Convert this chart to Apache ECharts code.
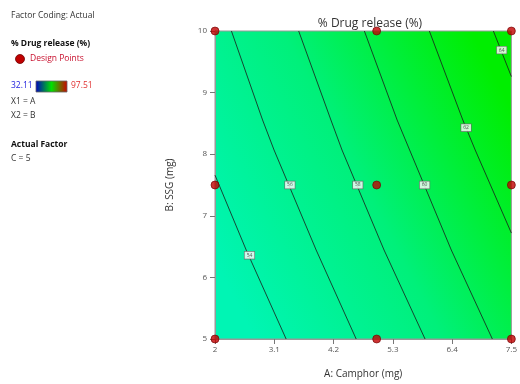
<!DOCTYPE html>
<html><head><meta charset="utf-8">
<script src="https://cdn.jsdelivr.net/npm/echarts@6/dist/echarts.min.js"></script>
<style>html,body{margin:0;padding:0;background:#fff}#c{width:520px;height:384px}</style>
</head><body><div id="c"></div>
<script>
var xTicks = [2, 3.1, 4.2, 5.3, 6.4, 7.5];
var yTicks = [5, 6, 7, 8, 9, 10];
var designPoints = [[2,10],[5,10],[7.5,10],[2,7.5],[5,7.5],[7.5,7.5],[2,5],[5,5],[7.5,5]];
var contour54 = [[2,7.66],[2.579,6.445],[3.32,5]];
var contour56 = [[2.305,10],[2.883,8.555],[3.096,8.068],[3.877,6.445],[4.62,5]];
var contour58 = [[3.553,10],[4.151,8.555],[4.357,8.068],[5.137,6.445],[5.898,5]];
var contour60 = [[4.772,10],[5.380,8.555],[5.612,8.068],[6.385,6.445],[7.147,5]];
var contour62 = [[5.978,10],[6.599,8.555],[6.829,8.068],[7.5,6.72]];
var contour64 = [[7.166,10],[7.5,9.26]];
var contourLabels = [[2.64,6.36,'54'],[3.39,7.5,'56'],[4.65,7.5,'58'],[5.89,7.5,'60'],[6.66,8.43,'62'],[7.32,9.69,'64']];
var rangeMin = '32.11', rangeMax = '97.51';

var FONT = '"Open Sans", "Noto Sans", sans-serif';
var chart = echarts.init(document.getElementById('c'));
function cline(d){
  return {type:'line', data:d, symbol:'none', silent:true, clip:true,
    lineStyle:{color:'#1a1a1a', width:0.8}, z:3};
}
var txt = function(x,y,t,o){ return {type:'text', left:x, top:y, style:Object.assign({text:t, fill:'#333', font:'8.5px '+FONT}, o||{})}; };
chart.setOption({
  animation:false,
  title:{text:'% Drug release (%)', left:365, top:13, textAlign:'center',
    textStyle:{fontSize:12, fontWeight:'normal', color:'#333', fontFamily:FONT}},
  grid:{left:215, right:4, top:31, bottom:45, show:true, borderColor:'#999', borderWidth:1,
    backgroundColor:{type:'linear', x:0, y:0.75, x2:1, y2:0.25,
      colorStops:[{offset:0,color:'#00f5b4'},{offset:0.5,color:'#00f07a'},{offset:1,color:'#00ee00'}]}},
  xAxis:{type:'value', min:2, max:7.5, name:'A: Camphor (mg)', nameLocation:'middle', nameGap:30,
    nameTextStyle:{fontSize:10, color:'#333', fontFamily:FONT},
    axisLine:{show:true, lineStyle:{color:'#999'}},
    axisTick:{show:true, length:5, customValues:xTicks, lineStyle:{color:'#777'}},
    axisLabel:{customValues:xTicks, fontSize:8, color:'#555', fontFamily:FONT, margin:7, showMaxLabel:true, showMinLabel:true},
    splitLine:{show:false}},
  yAxis:{type:'value', min:5, max:10, interval:1, name:'B: SSG (mg)', nameLocation:'middle', nameGap:40,
    nameTextStyle:{fontSize:10, color:'#333', fontFamily:FONT},
    axisLine:{show:true, lineStyle:{color:'#999'}},
    axisTick:{show:true, length:5, lineStyle:{color:'#777'}},
    axisLabel:{fontSize:8, color:'#555', fontFamily:FONT, margin:8},
    splitLine:{show:false}},
  series:[
    cline(contour54), cline(contour56), cline(contour58), cline(contour60), cline(contour62), cline(contour64),
    {type:'scatter', data:contourLabels, symbol:'rect', symbolSize:[1,1], z:4, silent:true,
      itemStyle:{color:'rgba(0,0,0,0)'},
      label:{show:true, position:'inside', formatter:function(p){return p.data[2];},
        fontSize:5, color:'#333', backgroundColor:'#fff', borderColor:'#666', borderWidth:0.7, padding:[1,2], fontFamily:FONT}},
    {type:'scatter', data:designPoints, symbol:'circle', symbolSize:8, clip:false, z:5,
      itemStyle:{color:'#c00000', borderColor:'#700000', borderWidth:0.8}}
  ],
  graphic:[
    txt(11,11,'Factor Coding: Actual'),
    txt(11,39,'% Drug release (%)',{font:'bold 8.5px '+FONT, fill:'#111'}),
    {type:'circle', shape:{cx:20, cy:59, r:4.5}, style:{fill:'#c00000', stroke:'#700000', lineWidth:0.8}},
    txt(30,54,'Design Points',{fill:'#c8102e'}),
    txt(11,81,rangeMin,{fill:'#2222dd'}),
    {type:'rect', shape:{x:36, y:81, width:31, height:11},
      style:{fill:{type:'linear',x:0,y:0,x2:1,y2:0,colorStops:[{offset:0,color:'#0000c0'},{offset:0.5,color:'#00e000'},{offset:1,color:'#d00000'}]}, stroke:'#666', lineWidth:0.8}},
    txt(71,81,rangeMax,{fill:'#e03030'}),
    txt(11,97,'X1 = A'),
    txt(11,111,'X2 = B'),
    txt(11,140,'Actual Factor',{font:'bold 8.5px '+FONT, fill:'#111'}),
    txt(11,154,'C = 5')
  ]
});
</script></body></html>
